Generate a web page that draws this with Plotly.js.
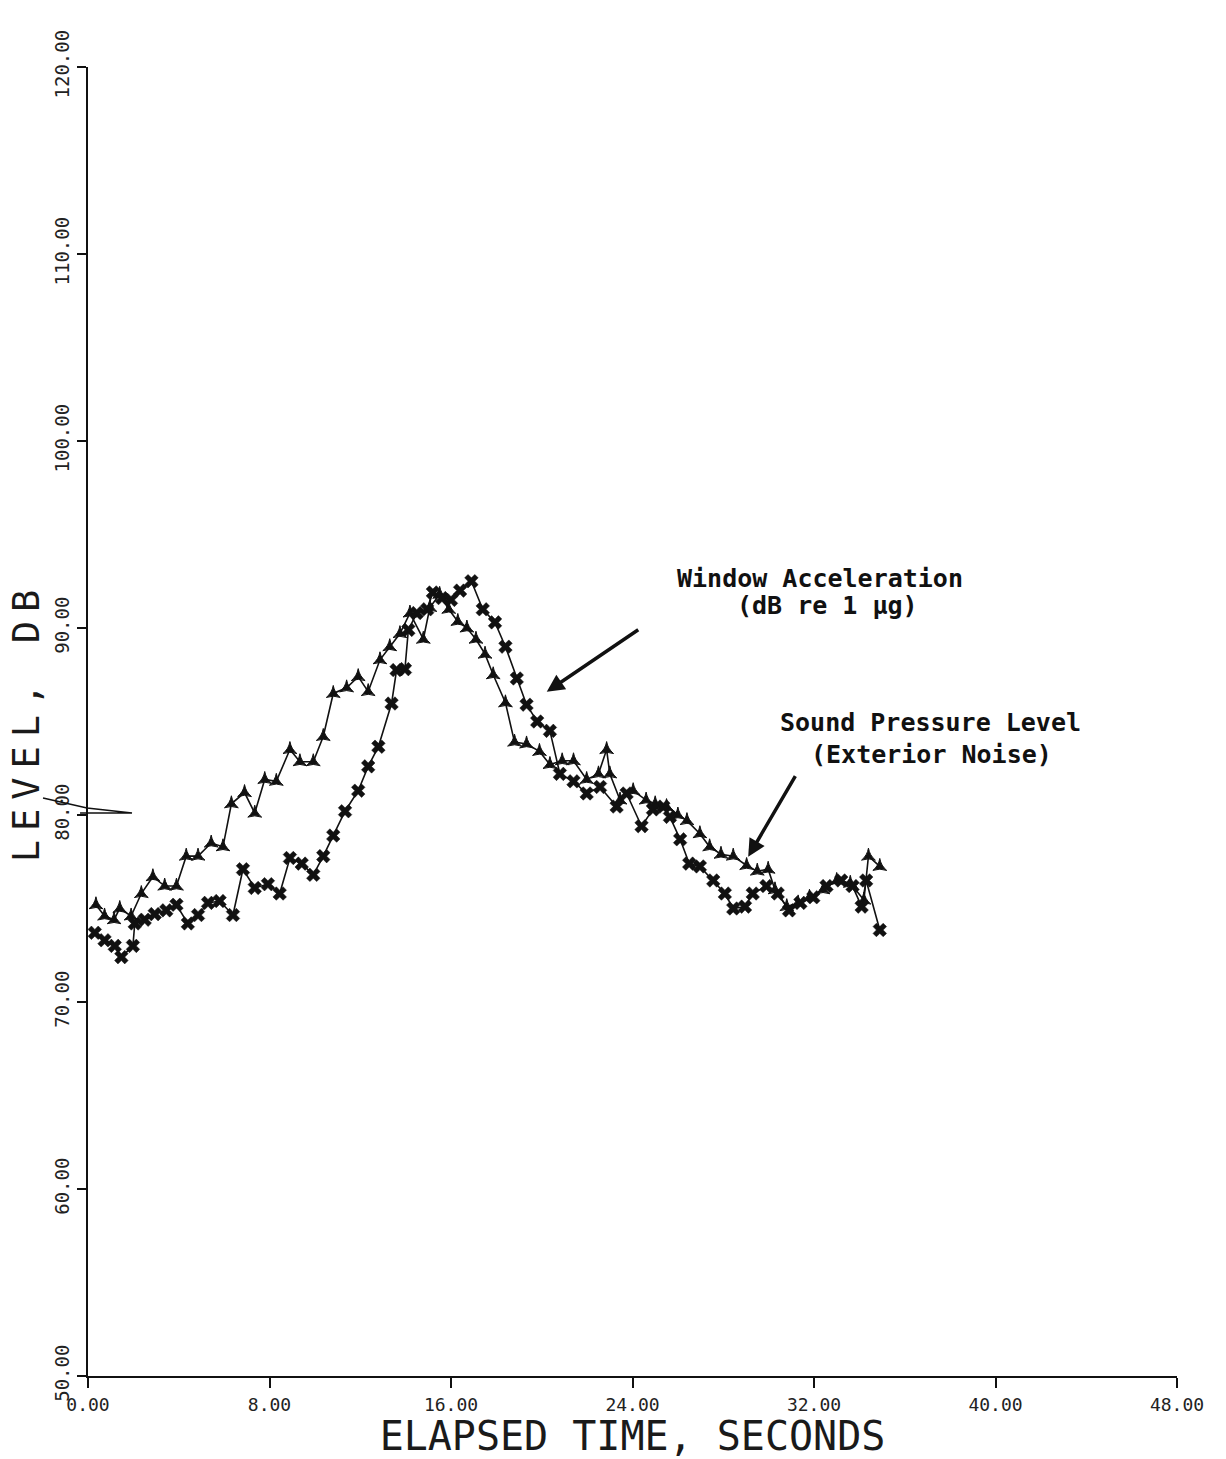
<!DOCTYPE html>
<html>
<head>
<meta charset="utf-8">
<script src="https://cdn.plot.ly/plotly-3.0.1.min.js"></script>
<style>
  html, body { margin: 0; padding: 0; background: #fff; }
  #chart { width: 1226px; height: 1459px; }
  .ytitle { letter-spacing: 9px; }
</style>
</head>
<body>
<div id="chart"></div>
<script>
// Sound pressure level (exterior noise), dB, against elapsed time in seconds
const splTime = [0.35, 0.73, 1.15, 1.4, 1.9, 2.35, 2.86, 3.38, 3.9, 4.33, 4.85, 5.43, 5.95, 6.32, 6.9, 7.35, 7.79,
  8.3, 8.9, 9.34, 9.93, 10.37, 10.81, 11.4, 11.91, 12.35, 12.87, 13.3, 13.75, 14.19, 14.78, 15.07, 15.5, 15.9,
  16.3, 16.7, 17.1, 17.5, 17.86, 18.4, 18.8, 19.33, 19.9, 20.36, 20.9, 21.4, 21.98, 22.5, 22.86, 23.0, 23.45,
  24.03, 24.6, 25.0, 25.5, 26.0, 26.4, 26.97, 27.4, 27.9, 28.44, 29.03, 29.5, 29.98, 30.28, 30.8, 31.3, 31.8,
  32.4, 33.0, 33.6, 34.2, 34.4, 34.9];
const splLevel = [75.2, 74.6, 74.4, 75.0, 74.6, 75.8, 76.7, 76.2, 76.2, 77.8, 77.8, 78.5, 78.3, 80.6, 81.2, 80.1, 81.9,
  81.8, 83.5, 82.85, 82.85, 84.2, 86.5, 86.8, 87.4, 86.6, 88.3, 89.0, 89.7, 90.8, 89.4, 91.1, 91.8, 91.0,
  90.35, 90.0, 89.4, 88.6, 87.5, 86.0, 83.9, 83.8, 83.4, 82.7, 82.9, 82.9, 81.9, 82.2, 83.5, 82.2, 80.8,
  81.3, 80.8, 80.6, 80.45, 80.0, 79.7, 79.0, 78.3, 77.9, 77.8, 77.3, 77.0, 77.1, 76.0, 75.1, 75.3, 75.6,
  76.0, 76.5, 76.35, 75.45, 77.8, 77.25];

// Window acceleration, dB re 1 µg, against elapsed time in seconds
const winTime = [0.3, 0.73, 1.18, 1.47, 1.98, 2.06, 2.5, 2.94, 3.45, 3.9, 4.4, 4.85, 5.29, 5.8, 6.39, 6.83, 7.35,
  7.93, 8.45, 8.9, 9.42, 9.93, 10.37, 10.81, 11.33, 11.91, 12.35, 12.8, 13.38, 13.6, 13.97, 14.12, 14.49, 14.95,
  15.2, 15.6, 16.0, 16.4, 16.9, 17.4, 17.94, 18.4, 18.9, 19.33, 19.8, 20.36, 20.8, 21.4, 21.98, 22.57, 23.3,
  23.74, 24.4, 24.9, 25.36, 25.65, 26.1, 26.5, 26.97, 27.56, 28.07, 28.44, 28.96, 29.3, 29.9, 30.4, 30.9, 31.4,
  31.97, 32.55, 33.2, 33.7, 34.1, 34.3, 34.9];
const winLevel = [73.7, 73.3, 73.0, 72.4, 73.0, 74.2, 74.4, 74.7, 74.9, 75.2, 74.2, 74.65, 75.3, 75.4, 74.65, 77.1, 76.1,
  76.3, 75.8, 77.7, 77.4, 76.8, 77.8, 78.9, 80.2, 81.3, 82.6, 83.65, 85.96, 87.75, 87.8, 89.9, 90.8, 91.0,
  91.9, 91.6, 91.5, 92.0, 92.5, 91.0, 90.3, 89.0, 87.3, 85.9, 85.0, 84.5, 82.2, 81.8, 81.15, 81.5, 80.45,
  81.15, 79.4, 80.3, 80.45, 79.9, 78.7, 77.4, 77.25, 76.5, 75.8, 75.0, 75.1, 75.8, 76.2, 75.8, 74.9, 75.3,
  75.6, 76.2, 76.5, 76.2, 75.1, 76.5, 73.85];

// Axis ticks
const xTicks = [0, 8, 16, 24, 32, 40, 48];
const yTicks = [50, 60, 70, 80, 90, 100, 110, 120];

const mono = 'DejaVu Sans Mono, Liberation Mono, monospace';

const traces = [
  {
    x: splTime, y: splLevel, type: 'scatter', mode: 'lines+markers',
    name: 'Sound Pressure Level',
    line: { color: '#111', width: 1.6 },
    marker: { symbol: 'star-triangle-up', size: 10, color: '#111', line: { color: '#111', width: 1 } }
  },
  {
    x: winTime, y: winLevel, type: 'scatter', mode: 'lines+markers',
    name: 'Window Acceleration',
    line: { color: '#111', width: 1.6 },
    marker: { symbol: 'x', size: 12, color: '#111', line: { color: '#111', width: 0.5 } }
  }
];

const labelFont = { family: mono, size: 25, color: '#111' };

const layout = {
  width: 1226, height: 1459,
  margin: { l: 88, r: 49, t: 67, b: 83 },
  paper_bgcolor: '#fff', plot_bgcolor: '#fff',
  showlegend: false,
  xaxis: {
    range: [0, 48], tickvals: xTicks, tickformat: '.2f',
    showgrid: false, zeroline: false, showline: true, linecolor: '#111', linewidth: 2,
    ticks: 'outside', ticklen: 10, tickwidth: 2, tickcolor: '#111',
    ticklabelstandoff: 1,
    tickfont: { family: mono, size: 18, color: '#222' },
    title: { text: 'ELAPSED TIME, SECONDS', font: { family: mono, size: 40, color: '#1a1a1a' }, standoff: 7 }
  },
  yaxis: {
    range: [50, 120], tickvals: yTicks, tickformat: '.2f', tickangle: -90,
    showgrid: false, zeroline: false, showline: true, linecolor: '#111', linewidth: 2,
    ticks: 'outside', ticklen: 9, tickwidth: 2, tickcolor: '#111',
    ticklabelstandoff: 0,
    tickfont: { family: mono, size: 19, color: '#222' },
    title: { text: 'LEVEL, DB', font: { family: mono, size: 37, color: '#1a1a1a' }, standoff: 0 }
  },
  annotations: [
    { x: 32.26, y: 92.67, text: '<b>Window Acceleration</b>', showarrow: false, font: labelFont },
    { x: 32.6, y: 91.18, text: '<b>(dB re 1 μg)</b>', showarrow: false, font: labelFont },
    { x: 37.15, y: 84.97, text: '<b>Sound Pressure Level</b>', showarrow: false, font: labelFont },
    { x: 37.2, y: 83.26, text: '<b>(Exterior Noise)</b>', showarrow: false, font: labelFont },
    { x: 20.22, y: 86.59, ax: 93, ay: -63, text: '', showarrow: true,
      arrowhead: 2, arrowsize: 1, arrowwidth: 3.5, arrowcolor: '#111' },
    { x: 29.1, y: 77.77, ax: 48, ay: -82, text: '', showarrow: true,
      arrowhead: 2, arrowsize: 1, arrowwidth: 3.5, arrowcolor: '#111' }
  ],
  shapes: [
    // pen stroke beside the 80 dB tick
    { type: 'path', xref: 'paper', yref: 'paper',
      path: 'M -0.0413 0.4416 L -0.0009 0.4339 L 0.0404 0.4301 L -0.0073 0.4301',
      line: { color: '#111', width: 1.5 } }
  ]
};

Plotly.newPlot('chart', traces, layout, { staticPlot: true, displayModeBar: false });
</script>
</body>
</html>
